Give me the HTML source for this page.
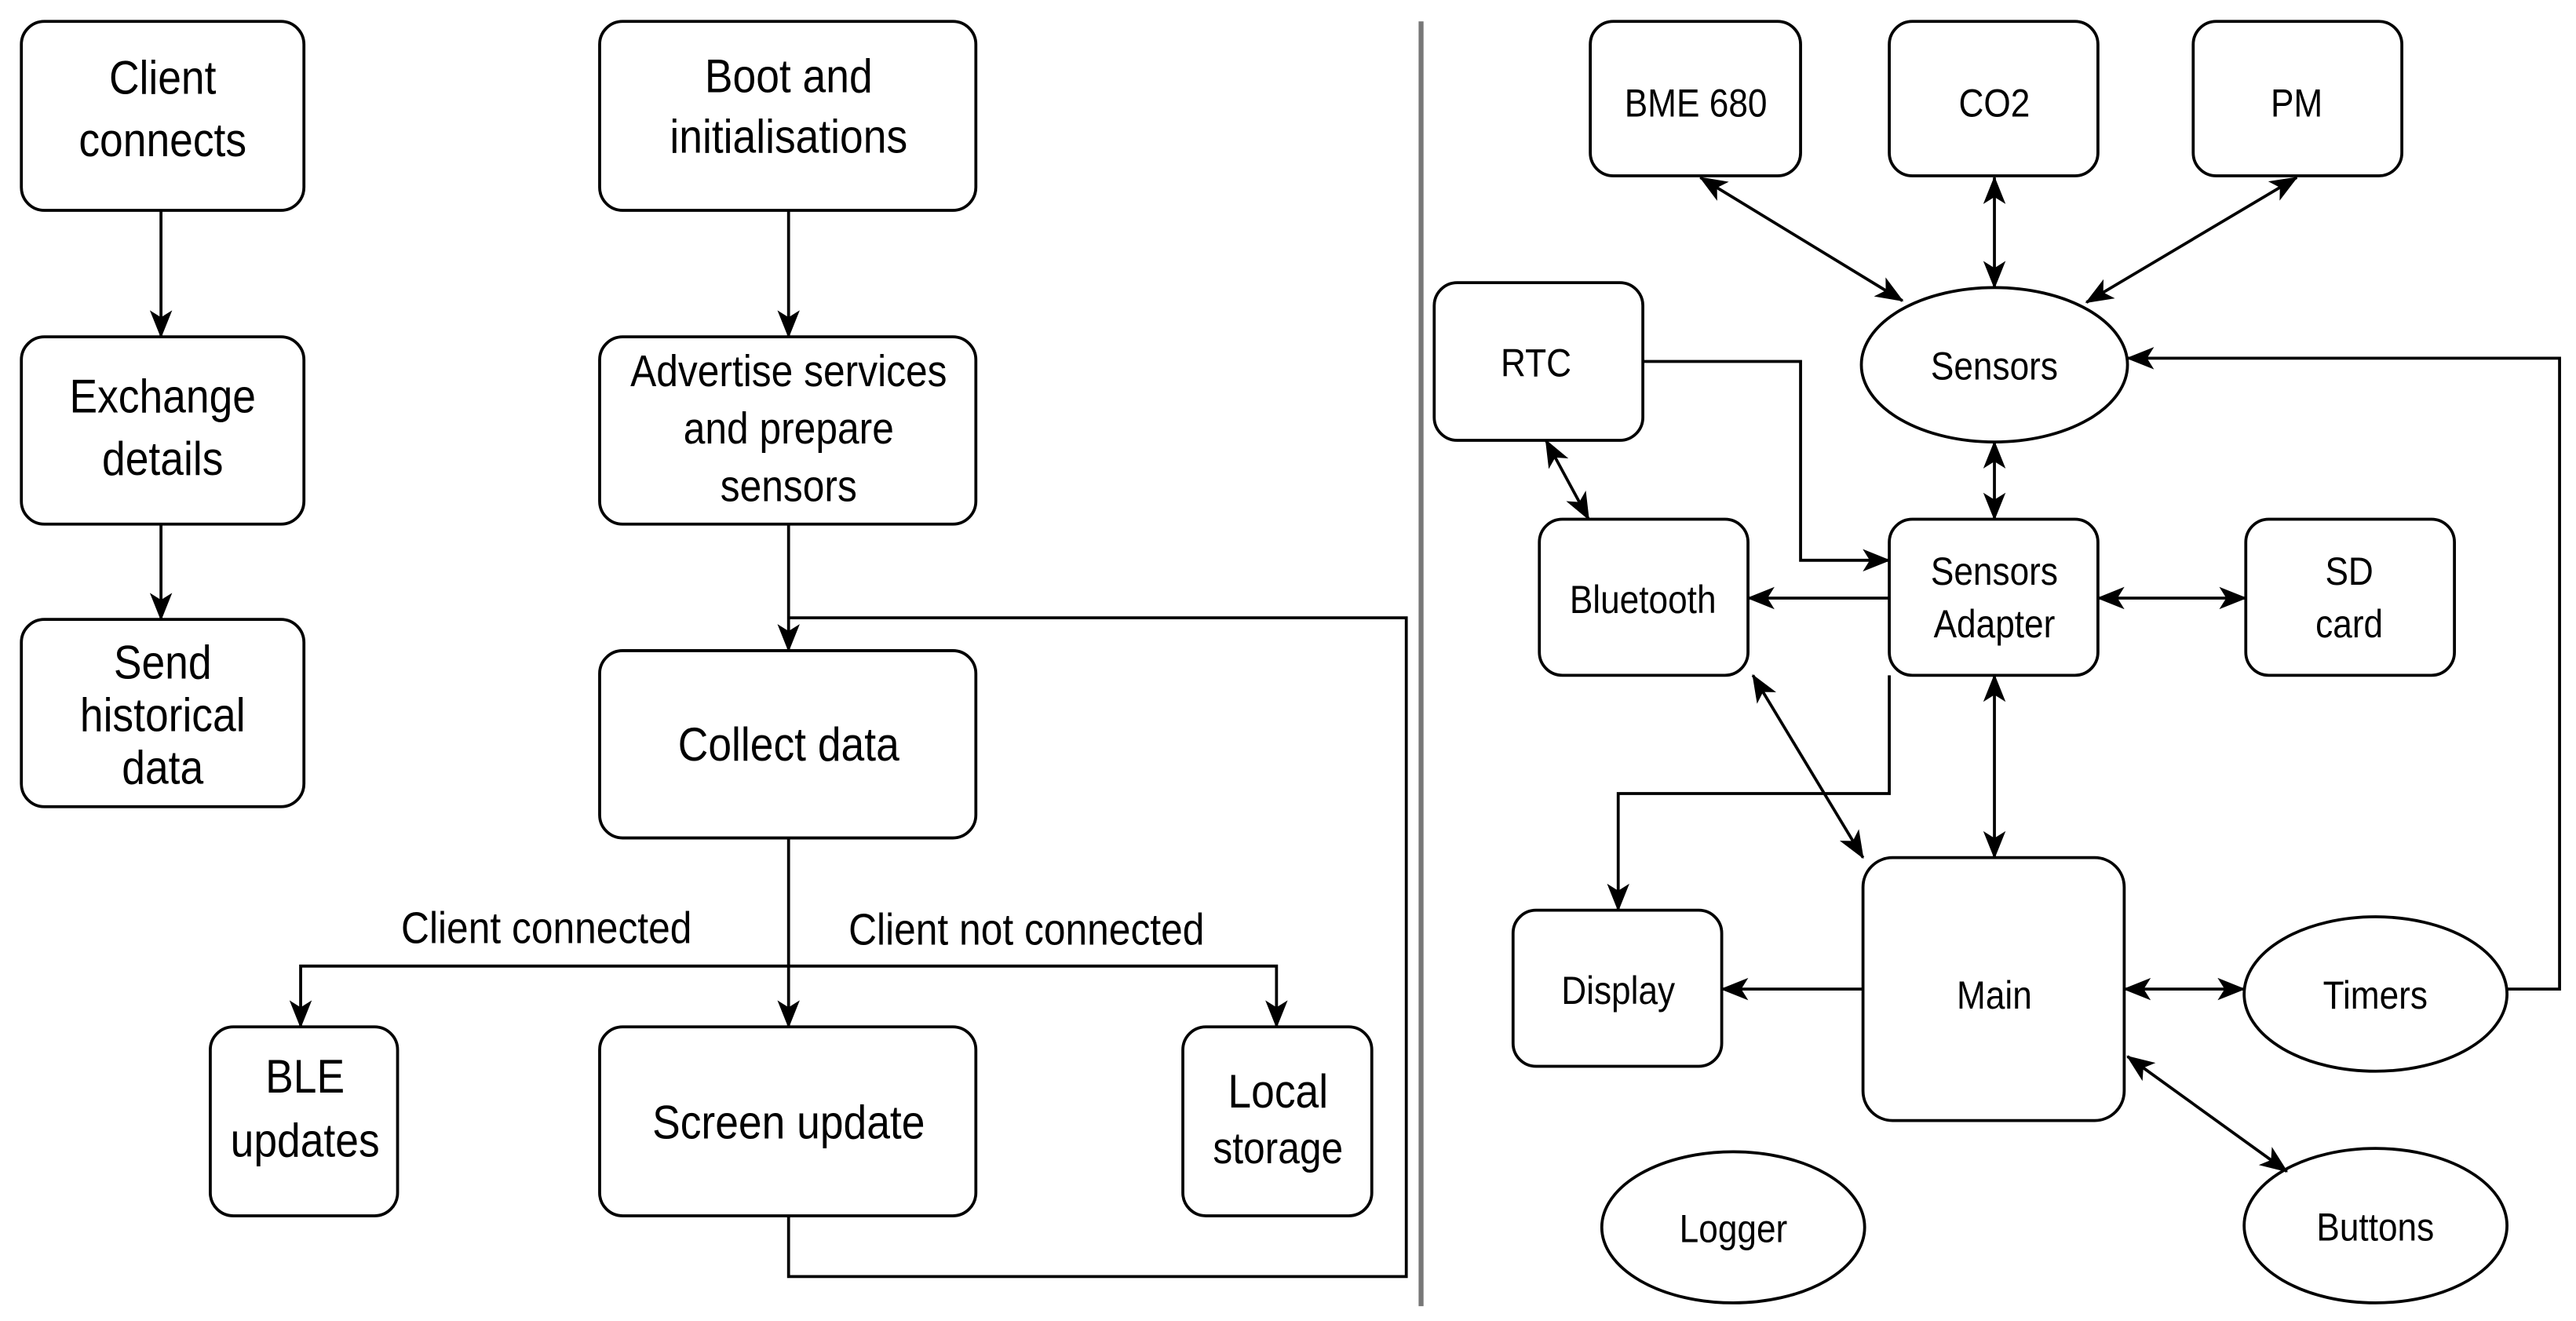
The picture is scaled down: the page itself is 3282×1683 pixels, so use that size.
<!DOCTYPE html>
<html><head><meta charset="utf-8"><style>
html,body{margin:0;padding:0;background:#fff;}
svg{display:block;}
text{font-family:"Liberation Sans",sans-serif;fill:#000;text-anchor:middle;}
</style></head><body>
<svg width="3282" height="1683" viewBox="0 0 1568 804" xmlns="http://www.w3.org/2000/svg">
<defs>
<marker id="a" viewBox="0 0 20 20" refX="19" refY="10" markerWidth="17" markerHeight="17" markerUnits="userSpaceOnUse" orient="auto-start-reverse">
<path d="M0,2 L20,10 L0,18 L5,10 Z" fill="#000"/>
</marker>
</defs>
<g fill="none" stroke="#000" stroke-width="1.8">
<rect x="13" y="13" width="172" height="115" rx="14"/>
<rect x="13" y="205" width="172" height="114" rx="14"/>
<rect x="13" y="377" width="172" height="114" rx="14"/>
<rect x="365" y="13" width="229" height="115" rx="14"/>
<rect x="365" y="205" width="229" height="114" rx="14"/>
<rect x="365" y="396" width="229" height="114" rx="14"/>
<rect x="365" y="625" width="229" height="115" rx="14"/>
<rect x="128" y="625" width="114" height="115" rx="14"/>
<rect x="720" y="625" width="115" height="115" rx="14"/>
<rect x="968" y="13" width="128" height="94" rx="14"/>
<rect x="1150" y="13" width="127" height="94" rx="14"/>
<rect x="1335" y="13" width="127" height="94" rx="14"/>
<rect x="873" y="172" width="127" height="96" rx="14"/>
<rect x="937" y="316" width="127" height="95" rx="14"/>
<rect x="1150" y="316" width="127" height="95" rx="14"/>
<rect x="1367" y="316" width="127" height="95" rx="14"/>
<rect x="921" y="554" width="127" height="95" rx="14"/>
<rect x="1134" y="522" width="159" height="160" rx="18"/>
<ellipse cx="1214" cy="222" rx="81" ry="47"/>
<ellipse cx="1446" cy="605" rx="80" ry="47"/>
<ellipse cx="1055" cy="747" rx="80" ry="46"/>
<ellipse cx="1446" cy="746" rx="80" ry="47"/>
<line x1="98" y1="128" x2="98" y2="205" marker-end="url(#a)"/>
<line x1="98" y1="319" x2="98" y2="377" marker-end="url(#a)"/>
<line x1="480" y1="128" x2="480" y2="205" marker-end="url(#a)"/>
<line x1="480" y1="319" x2="480" y2="396" marker-end="url(#a)"/>
<polyline points="480,740 480,777 856,777 856,376 480,376"/>
<line x1="480" y1="510" x2="480" y2="625" marker-end="url(#a)"/>
<polyline points="480,588 183,588 183,625" marker-end="url(#a)"/>
<polyline points="480,588 777,588 777,625" marker-end="url(#a)"/>
<line x1="1035" y1="108" x2="1158" y2="183" marker-start="url(#a)" marker-end="url(#a)"/>
<line x1="1214" y1="108" x2="1214" y2="175" marker-start="url(#a)" marker-end="url(#a)"/>
<line x1="1398" y1="108" x2="1270" y2="184" marker-start="url(#a)" marker-end="url(#a)"/>
<line x1="1214" y1="269" x2="1214" y2="316" marker-start="url(#a)" marker-end="url(#a)"/>
<polyline points="1000,220 1096,220 1096,341 1150,341" marker-end="url(#a)"/>
<line x1="941" y1="268" x2="967" y2="316" marker-start="url(#a)" marker-end="url(#a)"/>
<line x1="1150" y1="364" x2="1064" y2="364" marker-end="url(#a)"/>
<line x1="1277" y1="364" x2="1367" y2="364" marker-start="url(#a)" marker-end="url(#a)"/>
<polyline points="1150,411 1150,483 985,483 985,554" marker-end="url(#a)"/>
<line x1="1214" y1="411" x2="1214" y2="522" marker-start="url(#a)" marker-end="url(#a)"/>
<line x1="1067" y1="411" x2="1134" y2="522" marker-start="url(#a)" marker-end="url(#a)"/>
<line x1="1134" y1="602" x2="1048" y2="602" marker-end="url(#a)"/>
<line x1="1293" y1="602" x2="1366" y2="602" marker-start="url(#a)" marker-end="url(#a)"/>
<polyline points="1526,602 1558,602 1558,218 1295,218" marker-end="url(#a)"/>
<line x1="1295" y1="643" x2="1392" y2="713" marker-start="url(#a)" marker-end="url(#a)"/>
</g>
<line x1="865" y1="13" x2="865" y2="795" stroke="#777" stroke-width="3"/>
<g transform="scale(0.88,1)" style="font-size:29px">
<g transform="translate(0,0)">
<text x="112.5" y="57">Client</text><text x="112.5" y="95">connects</text>
<text x="112.5" y="251">Exchange</text><text x="112.5" y="289">details</text>
<text x="112.5" y="413">Send</text><text x="112.5" y="445">historical</text><text x="112.5" y="477">data</text>
<text x="545.5" y="56">Boot and</text><text x="545.5" y="93">initialisations</text>
<text x="545.5" y="235" style="font-size:27px">Advertise services</text><text x="545.5" y="270" style="font-size:27px">and prepare</text><text x="545.5" y="305" style="font-size:27px">sensors</text>
<text x="545.5" y="463">Collect data</text>
<text x="545.5" y="693">Screen update</text>
<text x="211" y="665">BLE</text><text x="211" y="704">updates</text>
<text x="884" y="674">Local</text><text x="884" y="708" style="font-size:27px">storage</text>
<text x="378" y="574" style="font-size:27px">Client connected</text>
<text x="710" y="575" style="font-size:27px">Client not connected</text>
</g>
<g style="font-size:24px">
<text x="1173" y="71">BME 680</text>
<text x="1379.5" y="71">CO2</text>
<text x="1588.6" y="71">PM</text>
<text x="1062.5" y="229">RTC</text>
<text x="1379.5" y="231">Sensors</text>
<text x="1136.4" y="373">Bluetooth</text>
<text x="1379.5" y="356">Sensors</text><text x="1379.5" y="388">Adapter</text>
<text x="1625" y="356">SD</text><text x="1625" y="388">card</text>
<text x="1119.3" y="611">Display</text>
<text x="1379.5" y="614">Main</text>
<text x="1643" y="614">Timers</text>
<text x="1199" y="756">Logger</text>
<text x="1643" y="755">Buttons</text>
</g>
</g>
</svg>
</body></html>
